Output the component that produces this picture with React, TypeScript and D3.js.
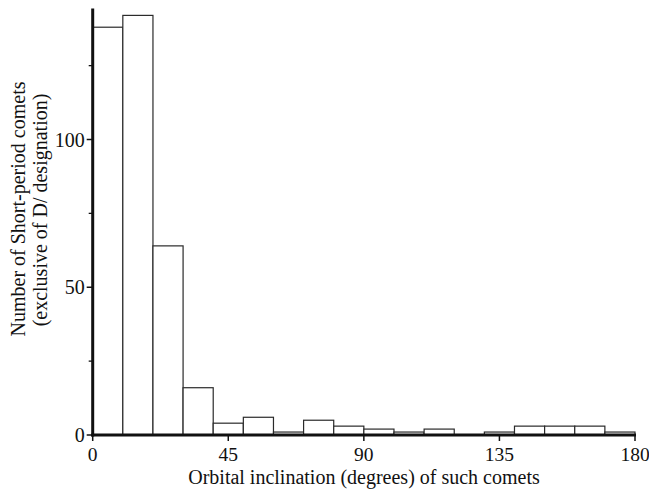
import React from "react";
import * as d3 from "d3";

const binStarts = [0, 10, 20, 30, 40, 50, 60, 70, 80, 90, 100, 110, 120, 130, 140, 150, 160, 170];
const counts = [138, 142, 64, 16, 4, 6, 1, 5, 3, 2, 1, 2, 0, 1, 3, 3, 3, 1];
const xTicks = [0, 45, 90, 135, 180];
const yMajorTicks = [0, 50, 100];
const yMinorTicks = [25, 75, 125];
const xTitle = "Orbital inclination (degrees) of such comets";
const yTitle1 = "Number of Short-period comets";
const yTitle2 = "(exclusive of D/ designation)";

const W = 649;
const H = 489;
const binWidth = 10;

export default function App() {
  const x = d3.scaleLinear().domain([0, 180]).range([92.7, 635]);
  const y = d3.scaleLinear().domain([0, 100]).range([435, 139.5]);
  const yTop = y(144.3);
  const font = "'Liberation Serif', 'Times New Roman', serif";
  const fs = 20;
  return (
    <svg
      width={W}
      height={H}
      style={{ position: "absolute", left: 0, top: 0, background: "#fff" }}
      fontFamily={font}
    >
      {binStarts.map((b, i) => (
        <rect
          key={b}
          x={x(b)}
          y={y(counts[i])}
          width={x(b + binWidth) - x(b)}
          height={y(0) - y(counts[i])}
          fill="#fff"
          stroke="#2a2a2a"
          strokeWidth={1.2}
        />
      ))}
      {/* y axis */}
      <line x1={x(0)} x2={x(0)} y1={yTop} y2={y(0) + 1.5} stroke="#111" strokeWidth={3} />
      {yMajorTicks.map((t) => (
        <g key={t}>
          <line x1={x(0) - 6} x2={x(0)} y1={y(t)} y2={y(t)} stroke="#111" strokeWidth={1.5} />
          <text x={x(0) - 8} y={y(t)} dy="0.35em" textAnchor="end" fontSize={fs} fill="#111">
            {t}
          </text>
        </g>
      ))}
      {yMinorTicks.map((t) => (
        <line key={t} x1={x(0) - 4} x2={x(0)} y1={y(t)} y2={y(t)} stroke="#111" strokeWidth={1.3} />
      ))}
      {/* x axis */}
      <line x1={x(0) - 1.5} x2={x(180) + 1} y1={y(0)} y2={y(0)} stroke="#111" strokeWidth={3} />
      {xTicks.map((t) => (
        <g key={t}>
          <line x1={x(t)} x2={x(t)} y1={y(0)} y2={y(0) + 6} stroke="#111" strokeWidth={1.5} />
          <text x={x(t)} y={461} textAnchor="middle" fontSize={19.5} fill="#111">
            {t}
          </text>
        </g>
      ))}
      <text x={364} y={484} textAnchor="middle" fontSize={fs} fill="#111">
        {xTitle}
      </text>
      <text
        transform={`translate(25, 209) rotate(-90)`}
        textAnchor="middle"
        fontSize={fs}
        fill="#111"
      >
        {yTitle1}
      </text>
      <text
        transform={`translate(47, 210) rotate(-90)`}
        textAnchor="middle"
        fontSize={fs}
        fill="#111"
      >
        {yTitle2}
      </text>
    </svg>
  );
}
